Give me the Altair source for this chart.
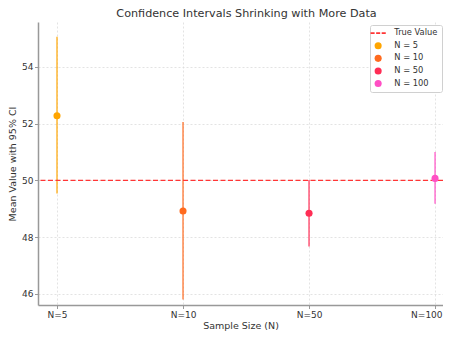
import altair as alt
import pandas as pd

# ---- data ----
sample_labels = ["N=5", "N=10", "N=50", "N=100"]
legend_labels = ["N = 5", "N = 10", "N = 50", "N = 100"]
means = [52.28, 48.92, 48.84, 50.07]
ci_low = [49.54, 45.80, 47.67, 49.18]
ci_high = [55.06, 52.06, 50.01, 51.00]
point_colors = ["#FFA500", "#FF6A1E", "#FF2D55", "#FF4FC4"]
true_value = 50.0
true_label = "True Value"
true_color = "#FF3535"
y_ticks = [46, 48, 50, 52, 54]

df = pd.DataFrame({
    "idx": list(range(len(sample_labels))),
    "sample": sample_labels,
    "series": legend_labels,
    "mean": means,
    "lo": ci_low,
    "hi": ci_high,
})

FONT = "DejaVu Sans"
dash_path = ("M-2.15,-0.22H-1.0V0.22H-2.15Z "
             "M-0.57,-0.22H0.57V0.22H-0.57Z "
             "M1.0,-0.22H2.15V0.22H1.0Z")

leg_domain = [true_label] + legend_labels
leg_colors = [true_color] + point_colors
leg_shapes = [dash_path] + ["circle"] * len(legend_labels)

label_expr = "[" + ",".join("'%s'" % s for s in sample_labels) + "][datum.value]"

xscale = alt.Scale(domain=[-0.1508, 3.063], nice=False, zero=False)
yscale = alt.Scale(domain=[45.61, 55.58], nice=False, zero=False)

xaxis = alt.Axis(values=list(range(len(sample_labels))), labelExpr=label_expr,
                 title="Sample Size (N)", titlePadding=1,
                 labelFlush=10, labelFlushOffset=7)
yaxis = alt.Axis(values=y_ticks, title="Mean Value with 95% CI", titlePadding=4)

base = alt.Chart(df)

errbars = base.mark_rule(strokeWidth=1.6, opacity=0.75).encode(
    x=alt.X("idx:Q", scale=xscale, axis=xaxis),
    y=alt.Y("lo:Q", scale=yscale, axis=yaxis),
    y2="hi:Q",
    stroke=alt.Stroke("series:N", scale=alt.Scale(domain=legend_labels, range=point_colors), legend=None),
)

true_line = alt.Chart(pd.DataFrame({"v": [true_value]})).mark_rule(
    color=true_color, strokeDash=[5, 2.5], strokeWidth=1.3
).encode(y=alt.Y("v:Q", scale=yscale))

legend = alt.Legend(title=None, orient="none", legendX=332, legendY=3,
                    fillColor="white", strokeColor="#d0d0d0", cornerRadius=2,
                    padding=4, labelFont=FONT, labelFontSize=8.3, labelColor="#333",
                    symbolSize=50, symbolStrokeWidth=0, labelOffset=12, rowPadding=3.6)

points = base.mark_point(filled=True, size=50, opacity=1).encode(
    x=alt.X("idx:Q", scale=xscale, axis=xaxis),
    y=alt.Y("mean:Q", scale=yscale, axis=yaxis),
    color=alt.Color("series:N", scale=alt.Scale(domain=leg_domain, range=leg_colors), legend=legend),
    shape=alt.Shape("series:N", scale=alt.Scale(domain=leg_domain, range=leg_shapes), legend=legend),
)

chart = alt.layer(errbars, true_line, points).properties(
    width=405, height=283,
    title=alt.TitleParams("Confidence Intervals Shrinking with More Data", fontSize=11.2,
                          font=FONT, fontWeight="normal", color="#333", offset=3, dx=6),
    autosize=alt.AutoSizeParams(type="none"),
    padding={"left": 30, "top": 14, "right": 0, "bottom": 26},
).configure_view(stroke=None).configure_axis(
    domainColor="#999", domainWidth=1.5, tickColor="#999", tickSize=3.5, tickWidth=1,
    labelFont=FONT, labelFontSize=9, labelColor="#333", labelPadding=1.5,
    titleFont=FONT, titleFontSize=9.5, titleFontWeight="normal", titleColor="#333",
    grid=True, gridColor="#dcdcdc", gridDash=[2, 2], gridWidth=0.8,
)

chart.save("out.html", embed_options={"renderer": "svg", "actions": False})
